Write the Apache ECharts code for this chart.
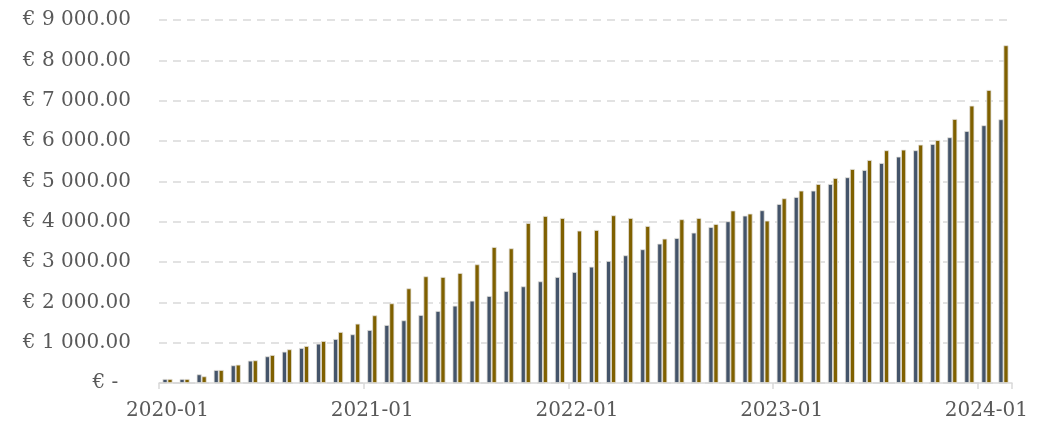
<!DOCTYPE html>
<html>
<head>
<meta charset="utf-8">
<script src="https://cdn.jsdelivr.net/npm/echarts@6/dist/echarts.min.js"></script>
<style>
html,body{margin:0;padding:0;background:#fff;}
#chart{width:1058px;height:427px;}
</style>
</head>
<body>
<div id="chart"></div>
<script>
const categories = [
  '2020-01','2020-02','2020-03','2020-04','2020-05','2020-06','2020-07','2020-08','2020-09','2020-10','2020-11','2020-12',
  '2021-01','2021-02','2021-03','2021-04','2021-05','2021-06','2021-07','2021-08','2021-09','2021-10','2021-11','2021-12',
  '2022-01','2022-02','2022-03','2022-04','2022-05','2022-06','2022-07','2022-08','2022-09','2022-10','2022-11','2022-12',
  '2023-01','2023-02','2023-03','2023-04','2023-05','2023-06','2023-07','2023-08','2023-09','2023-10','2023-11','2023-12',
  '2024-01','2024-02'
];
const seriesA = [
  100,100,215,322,438,554,661,777,868,975,1091,1207,
  1314,1438,1554,1686,1785,1917,2041,2157,2281,2397,2521,2628,
  2752,2884,3025,3166,3315,3454,3595,3727,3868,4009,4149,4282,
  4438,4612,4769,4934,5100,5281,5455,5612,5770,5926,6092,6248,
  6390,6538
];
const seriesB = [
  100,100,165,322,455,562,694,835,917,1041,1265,1471,
  1678,1975,2347,2645,2628,2727,2942,3372,3339,3967,4141,4091,
  3777,3794,4158,4091,3893,3578,4059,4091,3942,4276,4199,4025,
  4579,4769,4934,5083,5306,5529,5770,5785,5909,6025,6546,6876,
  7265,8373
];
const yTickLabels = ['€ -  ','€ 1 000.00','€ 2 000.00','€ 3 000.00','€ 4 000.00','€ 5 000.00','€ 6 000.00','€ 7 000.00','€ 8 000.00','€ 9 000.00'];

const chart = echarts.init(document.getElementById('chart'));
const font = 'DejaVu Serif';
chart.setOption({
  animation: false,
  grid: {left: 159, right: 46, top: 20, bottom: 44, containLabel: false},
  xAxis: {
    type: 'category',
    data: categories,
    boundaryGap: true,
    axisLine: {lineStyle: {color: '#d9d9d9', width: 1.5}},
    axisTick: {show: true, interval: 11, length: 6, lineStyle: {color: '#d9d9d9', width: 1.5}},
    axisLabel: {interval: 11, color: '#595959', fontFamily: font, fontSize: 20, margin: 18}
  },
  yAxis: {
    type: 'value',
    min: 0, max: 9000, interval: 1000,
    axisLine: {show: false},
    axisTick: {show: false},
    splitLine: {lineStyle: {color: '#d9d9d9', width: 1.5, type: [8, 6]}},
    axisLabel: {
      color: '#595959', fontFamily: font, fontSize: 20, margin: 28,
      formatter: function (v) { return yTickLabels[Math.round(v / 1000)]; }
    }
  },
  series: [
    {type: 'bar', data: seriesA, barWidth: 5, barGap: '0%',
     itemStyle: {color: '#44546A', borderColor: '#e4e2dc', borderWidth: 0.8}},
    {type: 'bar', data: seriesB, barWidth: 5, barGap: '0%',
     itemStyle: {color: '#7F6000', borderColor: '#e4e2dc', borderWidth: 0.8}}
  ]
});
</script>
</body>
</html>
